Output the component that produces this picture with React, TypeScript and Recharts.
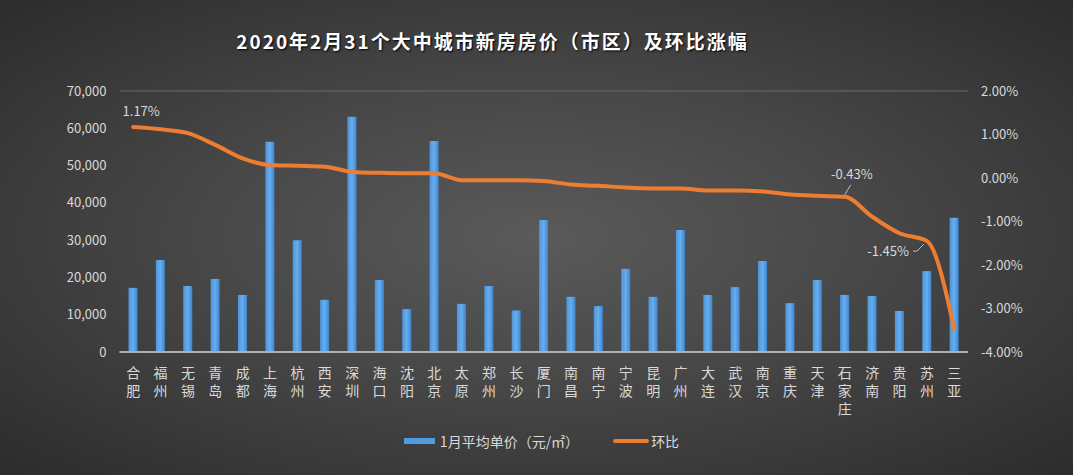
import React from 'react';
import { ComposedChart, Bar, Line, XAxis, YAxis, CartesianGrid, Legend, LabelList } from 'recharts';

// 31 cities, Feb 2020 new home prices (city proper) and month-on-month change
const cities = [
  '合肥', '福州', '无锡', '青岛', '成都', '上海', '杭州', '西安', '深圳', '海口', '沈阳',
  '北京', '太原', '郑州', '长沙', '厦门', '南昌', '南宁', '宁波', '昆明', '广州', '大连',
  '武汉', '南京', '重庆', '天津', '石家庄', '济南', '贵阳', '苏州', '三亚',
];
const prices = [
  17200, 24700, 17700, 19600, 15300, 56400, 30000, 14000, 63100, 19300, 11500,
  56600, 12900, 17700, 11100, 35400, 14800, 12300, 22300, 14800, 32700, 15300,
  17400, 24400, 13100, 19300, 15300, 15000, 11000, 21700, 36000,
];
const changes = [
  1.17, 1.12, 1.03, 0.76, 0.45, 0.3, 0.28, 0.26, 0.14, 0.12, 0.11,
  0.11, -0.05, -0.05, -0.05, -0.07, -0.15, -0.18, -0.22, -0.24, -0.24, -0.29,
  -0.29, -0.31, -0.38, -0.41, -0.43, -0.89, -1.27, -1.45, -3.48,
];
const priceTicks = [0, 10000, 20000, 30000, 40000, 50000, 60000, 70000];
const changeTicks = [-4, -3, -2, -1, 0, 1, 2];
const labelledCities = ['合肥', '石家庄', '苏州'];

const data = cities.map((city, i) => ({ city, price: prices[i], change: changes[i] }));

const FONT = '"Noto Sans CJK SC", "Noto Sans", sans-serif';
const TEXT = '#d9d9d9';

const CityTick = (props: any) => {
  const { x, y, payload } = props;
  const chars: string[] = Array.from(payload.value as string);
  return (
    <text x={x} y={y} textAnchor="middle" fill={TEXT} fontSize={14} fontFamily={FONT}>
      {chars.map((c, i) => (
        <tspan key={i} x={x} dy={i === 0 ? 24 : 18}>{c}</tspan>
      ))}
    </text>
  );
};

// only a few points carry a data label, like in the original
const ChangeLabel = (props: any) => {
  const { x, y, index, value } = props;
  const city = cities[index];
  if (!labelledCities.includes(city)) return null;
  const txt = `${Number(value).toFixed(2)}%`;
  const style = { fill: TEXT, fontSize: 13, fontFamily: FONT };
  if (index === 0) {
    return <text x={x + 8} y={y - 11} textAnchor="middle" {...style}>{txt}</text>;
  }
  if (city === '石家庄') {
    return (
      <g>
        <line x1={x} y1={y - 2} x2={x + 6} y2={y - 12} stroke="#bfbfbf" strokeWidth={1} />
        <text x={x + 7} y={y - 18} textAnchor="middle" {...style}>{txt}</text>
      </g>
    );
  }
  return (
    <g>
      <line x1={x - 3} y1={y + 3} x2={x - 10} y2={y + 10} stroke="#bfbfbf" strokeWidth={1} />
      <line x1={x - 10} y1={y + 10} x2={x - 14} y2={y + 10} stroke="#bfbfbf" strokeWidth={1} />
      <text x={x - 18} y={y + 15} textAnchor="end" {...style}>{txt}</text>
    </g>
  );
};

const LegendContent = () => (
  <div style={{ display: 'flex', justifyContent: 'center', alignItems: 'center', height: 28, paddingLeft: 10, color: TEXT, fontSize: 14, fontFamily: FONT }}>
    <span style={{ display: 'inline-block', width: 31, height: 6, background: '#4f9be0', marginRight: 5 }} />
    <span>1月平均单价（元/㎡）</span>
    <span style={{ display: 'inline-block', width: 36, height: 4, borderRadius: 2, background: '#ed7d31', marginLeft: 34, marginRight: 2 }} />
    <span>环比</span>
  </div>
);

export default function App() {
  return (
    <div style={{
      position: 'relative', width: 1073, height: 475, fontFamily: FONT,
      background: 'radial-gradient(ellipse at 50% 50%, #5a5a5a 0%, #474747 45%, #2c2c2c 100%)',
    }}>
      <style>{'body{margin:0}'}</style>
      <div style={{
        position: 'absolute', left: 0, width: 985, top: 28, textAlign: 'center', lineHeight: '26px',
        color: '#ffffff', fontSize: 19, fontWeight: 'bold', letterSpacing: 2, textShadow: '1px 1px 2px #000',
      }}>
        2020年2月31个大中城市新房房价（市区）及环比涨幅
      </div>
      <ComposedChart width={1073} height={475} data={data} margin={{ top: 91, right: 0, left: 0, bottom: 20 }}>
        <defs>
          <linearGradient id="barFill" x1="0" y1="0" x2="1" y2="0">
            <stop offset="0%" stopColor="#4e94d8" />
            <stop offset="50%" stopColor="#66aef0" />
            <stop offset="100%" stopColor="#3f86cc" />
          </linearGradient>
        </defs>
        <CartesianGrid vertical={false} stroke="#6a6a6a" strokeWidth={1} />
        <XAxis
          dataKey="city" interval={0} height={75} tick={<CityTick />}
          tickLine={false} tickSize={0} axisLine={{ stroke: '#b0b0b0', strokeWidth: 2 }}
        />
        <YAxis
          yAxisId="price" width={119.5} domain={[0, 70000]} ticks={priceTicks}
          tickFormatter={(v: number) => v.toLocaleString('en-US')}
          tick={{ fill: TEXT, fontSize: 13, fontFamily: FONT }}
          axisLine={false} tickLine={false} tickSize={0} tickMargin={13}
        />
        <YAxis
          yAxisId="change" orientation="right" width={105} domain={[-4, 2]} ticks={changeTicks}
          tickFormatter={(v: number) => `${v.toFixed(2)}%`}
          tick={{ fill: TEXT, fontSize: 13, fontFamily: FONT, textAnchor: 'start' }}
          axisLine={false} tickLine={false} tickSize={0} tickMargin={13}
        />
        <Legend verticalAlign="bottom" height={28} content={<LegendContent />} />
        <Bar yAxisId="price" dataKey="price" name="1月平均单价（元/㎡）" fill="url(#barFill)" barSize={9} isAnimationActive={false} />
        <Line
          yAxisId="change" dataKey="change" name="环比" type="monotone"
          stroke="#ed7d31" strokeWidth={4} strokeLinecap="round" dot={false} isAnimationActive={false}
        >
          <LabelList dataKey="change" content={<ChangeLabel />} />
        </Line>
      </ComposedChart>
    </div>
  );
}
